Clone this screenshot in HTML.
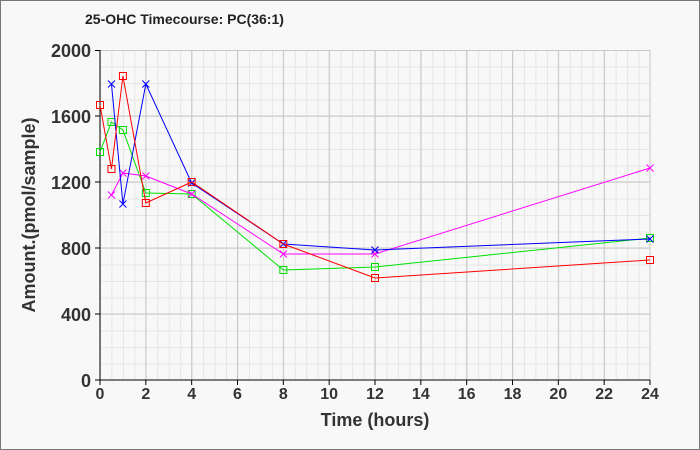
<!DOCTYPE html>
<html><head><style>body{margin:0;background:#fff}svg{display:block}</style></head><body>
<svg width="700" height="450" xmlns="http://www.w3.org/2000/svg" xmlns:xlink="http://www.w3.org/1999/xlink" font-family="Liberation Sans, sans-serif">
<defs>
<pattern id="mg" x="100" y="50" width="11.4583" height="16.5" patternUnits="userSpaceOnUse">
<path d="M0.5 0V16.5M0 0.5H11.4583" stroke="#e6e6e6" stroke-width="1" fill="none"/>
</pattern>
<path id="sq" d="M-3.5 -3.5h7v7h-7z" fill="none"/>
<path id="xx" d="M-3.5 -3.5L3.5 3.5M-3.5 3.5L3.5 -3.5"/>
</defs>
<rect x="0.5" y="0.5" width="699" height="449" fill="#f8f8f8" stroke="#777"/>
<text x="85" y="24" font-size="14" font-weight="bold" fill="#222">25-OHC Timecourse: PC(36:1)</text>
<rect x="100" y="50" width="550" height="330" fill="url(#mg)"/>
<g stroke="#c8c8c8" stroke-width="1" fill="none">
<path d="M145.83 50V380M191.67 50V380M237.5 50V380M283.33 50V380M329.17 50V380M375 50V380M420.83 50V380M466.67 50V380M512.5 50V380M558.33 50V380M604.17 50V380M650 50V380"/>
<path d="M100 50.5H650M100 116H650M100 182H650M100 248H650M100 314H650"/>
</g>
<g stroke="#000" stroke-width="1" fill="none">
<path d="M100 50V380H650"/>
<path d="M100 380v5M145.83 380v5M191.67 380v5M237.5 380v5M283.33 380v5M329.17 380v5M375 380v5M420.83 380v5M466.67 380v5M512.5 380v5M558.33 380v5M604.17 380v5M650 380v5"/>
<path d="M95 380h5M95 314h5M95 248h5M95 182h5M95 116h5M95 50.5h5"/>
</g>
<g font-size="16" font-weight="bold" fill="#333" text-anchor="middle">
<text x="100" y="399">0</text><text x="145.83" y="399">2</text><text x="191.67" y="399">4</text><text x="237.5" y="399">6</text><text x="283.33" y="399">8</text><text x="329.17" y="399">10</text><text x="375" y="399">12</text><text x="420.83" y="399">14</text><text x="466.67" y="399">16</text><text x="512.5" y="399">18</text><text x="558.33" y="399">20</text><text x="604.17" y="399">22</text><text x="650" y="399">24</text>
</g>
<g font-size="18" font-weight="bold" fill="#333" text-anchor="end">
<text x="91" y="387">0</text><text x="91" y="321">400</text><text x="91" y="255">800</text><text x="91" y="189">1200</text><text x="91" y="123">1600</text><text x="91" y="57">2000</text>
</g>
<text x="375" y="426" font-size="18" font-weight="bold" fill="#333" text-anchor="middle">Time (hours)</text>
<text transform="translate(35,215) rotate(-90)" font-size="18" font-weight="bold" fill="#333" text-anchor="middle">Amount.(pmol/sample)</text>

<g stroke="#00e000" fill="none">
<polyline points="100,152 111.46,122 122.92,130 145.83,193 191.67,194 283.33,270 375,267 650,238"/>
<use xlink:href="#sq" x="100" y="152"/><use xlink:href="#sq" x="111.46" y="122"/><use xlink:href="#sq" x="122.92" y="130"/><use xlink:href="#sq" x="145.83" y="193"/><use xlink:href="#sq" x="191.67" y="194"/><use xlink:href="#sq" x="283.33" y="270"/><use xlink:href="#sq" x="375" y="267"/><use xlink:href="#sq" x="650" y="238"/>
</g>
<g stroke="#ff00ff" fill="none">
<polyline points="111.46,195 122.92,173 145.83,176 191.67,194 283.33,254 375,254 650,168"/>
<use xlink:href="#xx" x="111.46" y="195"/><use xlink:href="#xx" x="122.92" y="173"/><use xlink:href="#xx" x="145.83" y="176"/><use xlink:href="#xx" x="191.67" y="194"/><use xlink:href="#xx" x="283.33" y="254"/><use xlink:href="#xx" x="375" y="254"/><use xlink:href="#xx" x="650" y="168"/>
</g>
<g stroke="#0000ff" fill="none">
<polyline points="111.46,84 122.92,204 145.83,84 191.67,183 283.33,244 375,250 650,239"/>
<use xlink:href="#xx" x="111.46" y="84"/><use xlink:href="#xx" x="122.92" y="204"/><use xlink:href="#xx" x="145.83" y="84"/><use xlink:href="#xx" x="191.67" y="183"/><use xlink:href="#xx" x="283.33" y="244"/><use xlink:href="#xx" x="375" y="250"/><use xlink:href="#xx" x="650" y="239"/>
</g>
<g stroke="#ff0000" fill="none">
<polyline points="100,105 111.46,169 122.92,76 145.83,203 191.67,182 283.33,244 375,278 650,260"/>
<use xlink:href="#sq" x="100" y="105"/><use xlink:href="#sq" x="111.46" y="169"/><use xlink:href="#sq" x="122.92" y="76"/><use xlink:href="#sq" x="145.83" y="203"/><use xlink:href="#sq" x="191.67" y="182"/><use xlink:href="#sq" x="283.33" y="244"/><use xlink:href="#sq" x="375" y="278"/><use xlink:href="#sq" x="650" y="260"/>
</g>
</svg>
</body></html>
